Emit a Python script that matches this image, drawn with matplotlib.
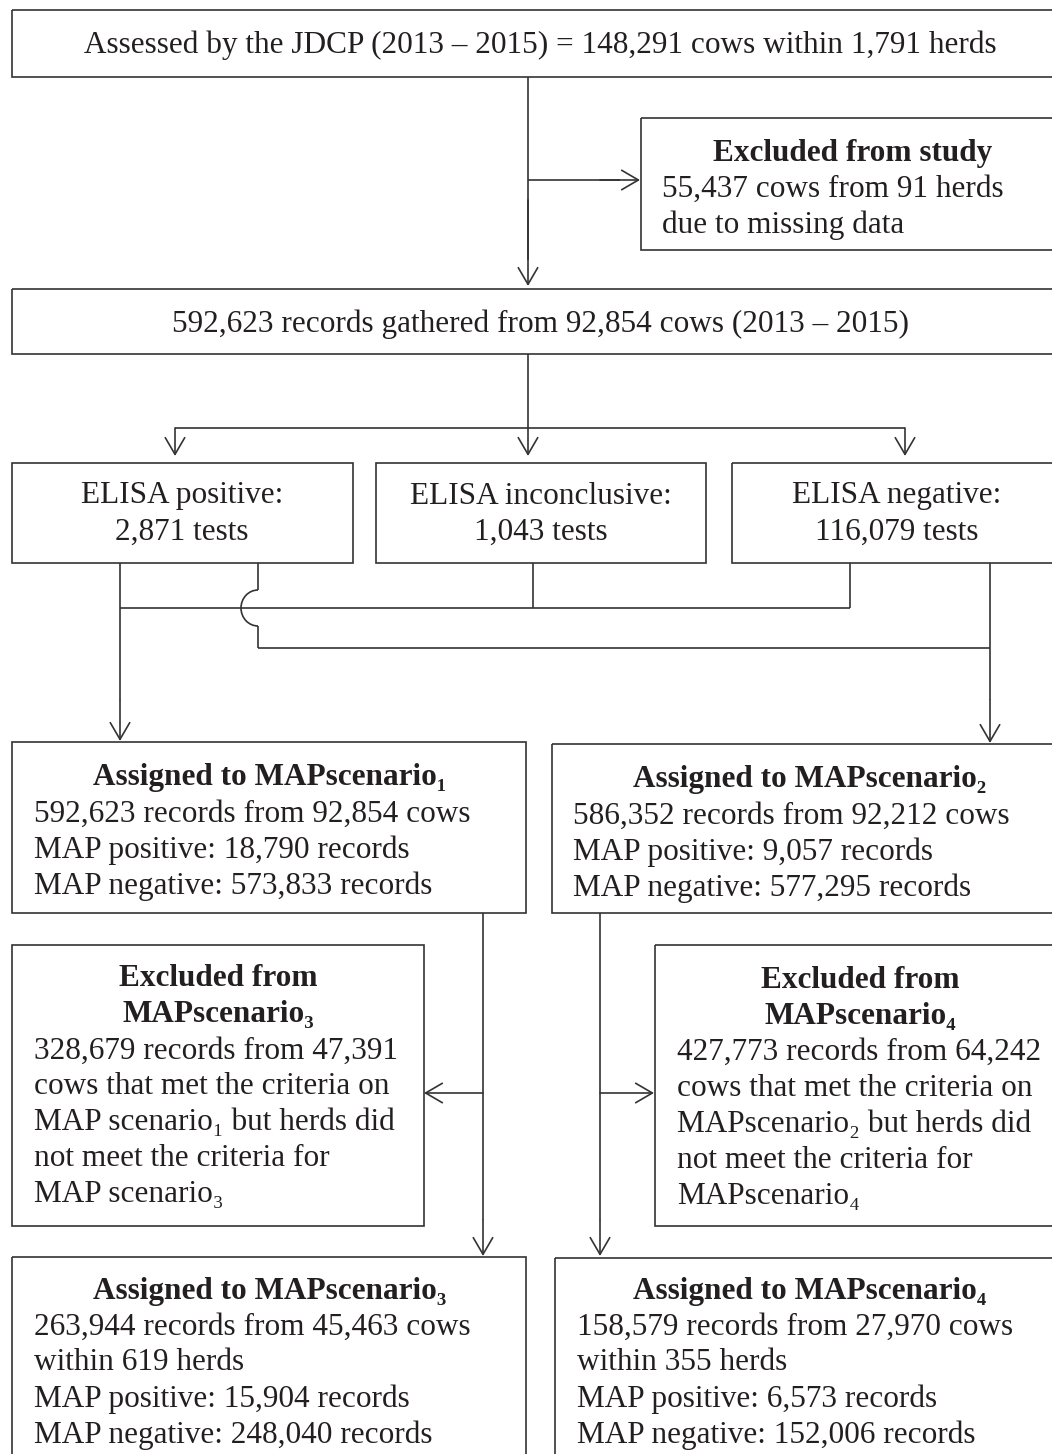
import matplotlib.pyplot as plt
from matplotlib.patches import Rectangle, Arc

plt.rcParams['font.family'] = ['Liberation Serif', 'DejaVu Serif']

# textos de las cajas
top_text = "Assessed by the JDCP (2013 – 2015) = 148,291 cows within 1,791 herds"
excl_title = "Excluded from study"
excl_lines = ["55,437 cows from 91 herds", "due to missing data"]
records_text = "592,623 records gathered from 92,854 cows (2013 – 2015)"
elisa_titles = ["ELISA positive:", "ELISA inconclusive:", "ELISA negative:"]
elisa_tests = ["2,871 tests", "1,043 tests", "116,079 tests"]

s1_title = ["Assigned to MAPscenario₁"]
s1_lines = ["592,623 records from 92,854 cows", "MAP positive: 18,790 records",
            "MAP negative: 573,833 records"]
s2_title = ["Assigned to MAPscenario₂"]
s2_lines = ["586,352 records from 92,212 cows", "MAP positive: 9,057 records",
            "MAP negative: 577,295 records"]
ex3_title = ["Excluded from", "MAPscenario₃"]
ex3_lines = ["328,679 records from 47,391", "cows that met the criteria on",
             "MAP scenario₁ but herds did", "not meet the criteria for", "MAP scenario₃"]
ex4_title = ["Excluded from", "MAPscenario₄"]
ex4_lines = ["427,773 records from 64,242", "cows that met the criteria on",
             "MAPscenario₂ but herds did", "not meet the criteria for", "MAPscenario₄"]
s3_title = ["Assigned to MAPscenario₃"]
s3_lines = ["263,944 records from 45,463 cows", "within 619 herds",
            "MAP positive: 15,904 records", "MAP negative: 248,040 records"]
s4_title = ["Assigned to MAPscenario₄"]
s4_lines = ["158,579 records from 27,970 cows", "within 355 herds",
            "MAP positive: 6,573 records", "MAP negative: 152,006 records"]

W, H = 1052, 1454
LC = '#333333'
TC = '#231f20'
FS = 22.5
LS = 36  # espacio entre lineas (px)
DY = 3   # ajuste vertical del texto

fig = plt.figure(figsize=(W / 100, H / 100), dpi=100)
ax = fig.add_axes([0, 0, 1, 1])
ax.set_xlim(0, W)
ax.set_ylim(H, 0)
ax.axis('off')


def caja(x0, y0, x1, y1):
    ax.add_patch(Rectangle((x0, y0), x1 - x0, y1 - y0, fill=False, ec=LC, lw=1.2))


def linea(xs, ys):
    ax.plot(xs, ys, color=LC, lw=1.2, solid_capstyle='butt')


def flecha(x0, y0, x1, y1):
    ax.annotate('', xy=(x1, y1), xytext=(x0, y0),
                arrowprops=dict(arrowstyle='->,head_length=1.2,head_width=0.7',
                                color=LC, lw=1.2, shrinkA=0, shrinkB=0, mutation_scale=10))


def texto(x, y, t, ha='center', bold=False):
    ax.text(x, y + DY, t, ha=ha, va='center', fontsize=FS, color=TC,
            fontweight='bold' if bold else 'normal')


def bloque(titulo, cuerpo, xc, xl, y0):
    y = y0
    for t in titulo:
        texto(xc, y, t, bold=True)
        y += LS
    for t in cuerpo:
        texto(xl, y, t, ha='left')
        y += LS


# caja superior
caja(12, 10, 1070, 77)
texto(540, 42, top_text)
linea([528, 528], [77, 260])
flecha(528, 200, 528, 286)
linea([528, 620], [180, 180])
flecha(600, 180, 640, 180)

caja(641, 118, 1070, 250)
bloque([excl_title], excl_lines, 853, 662, 150)

caja(12, 289, 1070, 354)
texto(540, 321, records_text)

linea([528, 528], [354, 428])
linea([175, 905], [428, 428])
for xa in [175, 528, 905]:
    flecha(xa, 428, xa, 456)

elisa_x = [(12, 353), (376, 706), (732, 1070)]
elisa_c = [182, 541, 897]
for (x0, x1), xc, t1, t2 in zip(elisa_x, elisa_c, elisa_titles, elisa_tests):
    caja(x0, 463, x1, 563)
    texto(xc, 493, t1)
    texto(xc, 529, t2)

# conexiones ELISA -> escenarios
linea([120, 120], [563, 700])
flecha(120, 700, 120, 741)
linea([533, 533], [563, 608])
linea([850, 850], [563, 608])
linea([120, 850], [608, 608])
linea([258, 258], [563, 590])
ax.add_patch(Arc((258, 608), 34, 36, theta1=90, theta2=270, color=LC, lw=1.2))
linea([258, 258], [626, 648])
linea([258, 990], [648, 648])
linea([990, 990], [563, 700])
flecha(990, 700, 990, 743)

caja(12, 742, 526, 913)
bloque(s1_title, s1_lines, 270, 34, 775)
caja(552, 744, 1070, 913)
bloque(s2_title, s2_lines, 810, 573, 777)

linea([483, 483], [913, 1220])
flecha(483, 1220, 483, 1256)
flecha(483, 1093, 424, 1093)
linea([600, 600], [913, 1220])
flecha(600, 1220, 600, 1256)
flecha(600, 1093, 654, 1093)

caja(12, 945, 424, 1226)
bloque(ex3_title, ex3_lines, 218, 34, 976)
caja(655, 945, 1070, 1226)
bloque(ex4_title, ex4_lines, 860, 677, 977)

caja(12, 1257, 526, 1500)
bloque(s3_title, s3_lines, 270, 34, 1288)
caja(555, 1258, 1070, 1500)
bloque(s4_title, s4_lines, 810, 577, 1288)

fig.savefig('out.png', dpi=100)
